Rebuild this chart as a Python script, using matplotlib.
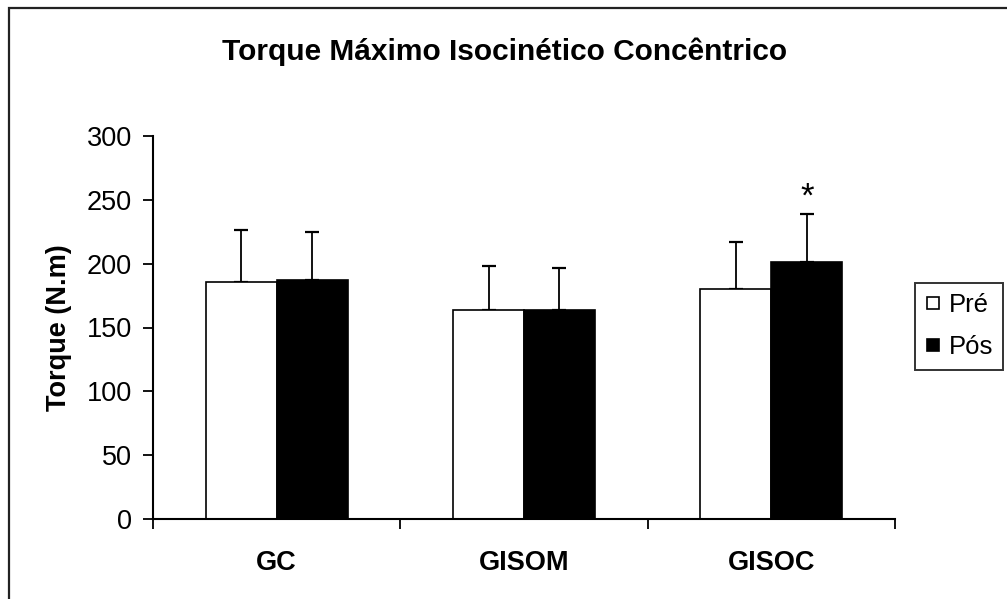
import numpy as np
import matplotlib
matplotlib.use("Agg")
import matplotlib.pyplot as plt
from matplotlib.lines import Line2D
from matplotlib.patches import Rectangle

plt.rcParams['font.family'] = ['Liberation Sans', 'DejaVu Sans']

# data
groups = ['GC', 'GISOM', 'GISOC']
pre = [185.5, 163.5, 180.5]
pos = [187.5, 164, 201.5]
pre_err = [41, 34.5, 36.5]
pos_err = [37, 32.5, 37.5]
y_ticks = [0, 50, 100, 150, 200, 250, 300]

fig = plt.figure(figsize=(10.07, 5.99), dpi=100)
ax = fig.add_axes([153/1007, 1 - 519/599, (895 - 153)/1007, (519 - 136)/599])

x = np.arange(len(groups))
w = 0.287

ax.bar(x - w/2, pre, w, color='white', edgecolor='black', linewidth=1.2, zorder=2)
ax.bar(x + w/2, pos, w, color='black', edgecolor='black', linewidth=1.2, zorder=2)
ax.errorbar(x - w/2, pre, yerr=[np.zeros(3), pre_err], fmt='none', ecolor='black',
            elinewidth=1.3, capsize=4.7, capthick=1.6, zorder=1)
ax.errorbar(x + w/2, pos, yerr=[np.zeros(3), pos_err], fmt='none', ecolor='black',
            elinewidth=1.3, capsize=4.7, capthick=1.6, zorder=1)

# significance mark over GISOC pos
ax.annotate('*', xy=(x[2] + w/2, pos[2] + pos_err[2]), xytext=(0, 5),
            textcoords='offset points', ha='center', va='baseline', fontsize=25)

ax.set_xlim(-0.5, 2.5)
ax.set_ylim(0, 300)
ax.set_yticks(y_ticks)
ax.tick_params(axis='y', direction='out', length=7, width=1.3, pad=8, labelsize=19.5)

ax.set_xticks([-0.5, 0.5, 1.5, 2.5])
ax.set_xticklabels([])
ax.tick_params(axis='x', which='major', direction='out', length=7, width=1.3)
ax.set_xticks(x, minor=True)
ax.set_xticklabels(groups, minor=True, fontweight='bold', fontsize=19.5)
ax.tick_params(axis='x', which='minor', length=0, pad=22)

for s in ['top', 'right']:
    ax.spines[s].set_visible(False)
for s in ['left', 'bottom']:
    ax.spines[s].set_linewidth(1.5)

ax.set_ylabel('Torque (N.m)', fontweight='bold', fontsize=19.5, labelpad=11)

fig.text(505/1007, 1 - 52/599, 'Torque Máximo Isocinético Concêntrico',
         ha='center', va='center', fontweight='bold', fontsize=21.5)

handles = [Line2D([], [], marker='s', linestyle='none', markersize=9,
                  markerfacecolor='white', markeredgecolor='black', markeredgewidth=1.2),
           Line2D([], [], marker='s', linestyle='none', markersize=9,
                  markerfacecolor='black', markeredgecolor='black', markeredgewidth=1.2)]
leg = fig.legend(handles, ['Pré', 'Pós'], loc='upper left',
                 bbox_to_anchor=(915/1007, 1 - 283/599), fontsize=18.5,
                 frameon=True, fancybox=False, edgecolor='black',
                 handlelength=0.6, handletextpad=0.3, borderpad=0.4,
                 labelspacing=0.7, borderaxespad=0)
leg.get_frame().set_linewidth(1.4)

# outer chart border
fig.patches.append(Rectangle((9/1007, -0.1), 1.2, 1 - 8/599 + 0.1, transform=fig.transFigure,
                             fill=False, edgecolor='#222222', linewidth=1.6))

fig.savefig('out.png', dpi=100)
